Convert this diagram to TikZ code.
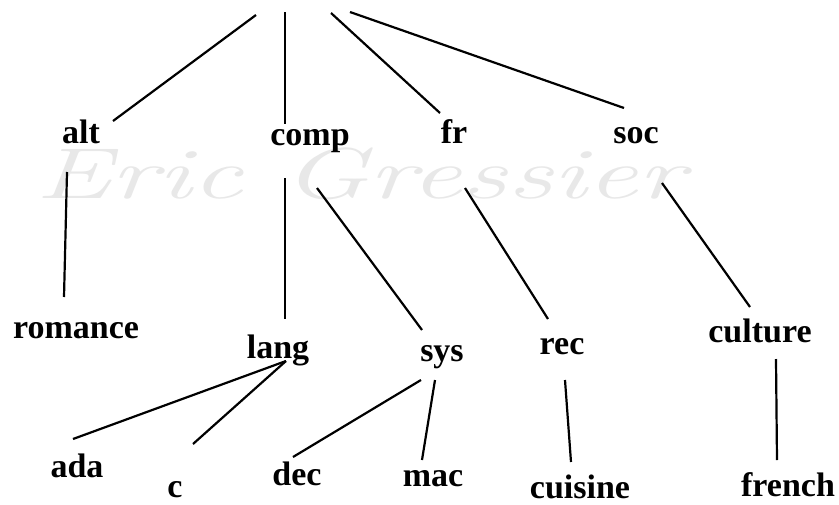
\documentclass[tikz,border=0pt]{standalone}
\usepackage{fontspec}
\setmainfont{Liberation Serif}
\newfontfamily\wmfont{Latin Modern Roman}
\begin{document}
\begin{tikzpicture}[x=1pt,y=-1pt,
  lab/.style={anchor=base,inner sep=0pt,font=\fontsize{34}{36}\selectfont\bfseries},
  edge/.style={line width=2.2pt,black}]
\useasboundingbox (0,0) rectangle (839,504);
\fill[white] (0,0) rectangle (839,504);
% watermark
\node[anchor=base,inner sep=0pt,text=black!9,xscale=1.58,font=\wmfont\fontsize{72}{80}\selectfont\itshape] (wm) at (360,198) {Eric Gressier};
% nodes
\node[lab] (alt) at (81,143) {alt};
\node[lab] (comp) at (310,145) {comp};
\node[lab] (fr) at (454,143) {fr};
\node[lab] (soc) at (636,143) {soc};
\node[lab] (romance) at (76,338) {romance};
\node[lab] (lang) at (278,358) {lang};
\node[lab] (sys) at (442,361) {sys};
\node[lab] (rec) at (562,354) {rec};
\node[lab] (culture) at (760,342) {culture};
\node[lab] (ada) at (77,477) {ada};
\node[lab] (c) at (175,497) {c};
\node[lab] (dec) at (297,485) {dec};
\node[lab] (mac) at (433,486) {mac};
\node[lab] (cuisine) at (580,498) {cuisine};
\node[lab] (french) at (788,496) {french};
% connector ends
\coordinate (r1) at (256,15);
\coordinate (r2) at (285,12);
\coordinate (r3) at (331,13);
\coordinate (r4) at (350,12);
\coordinate (alt-t) at (113,121);
\coordinate (comp-t) at (285,124);
\coordinate (fr-t) at (440,113);
\coordinate (soc-t) at (624,108);
\coordinate (alt-b) at (67,172);
\coordinate (romance-t) at (64,297);
\coordinate (comp-b1) at (285,178);
\coordinate (lang-t) at (285,319);
\coordinate (comp-b2) at (317,188);
\coordinate (sys-t) at (422,330);
\coordinate (fr-b) at (465,188);
\coordinate (rec-t) at (548,319);
\coordinate (soc-b) at (662,183);
\coordinate (culture-t) at (750,307);
\coordinate (lang-b) at (286,361);
\coordinate (ada-t) at (73,439);
\coordinate (c-t) at (193,444);
\coordinate (sys-b1) at (421,380);
\coordinate (dec-t) at (293,457);
\coordinate (sys-b2) at (435,380);
\coordinate (mac-t) at (422,460);
\coordinate (rec-b) at (565,380);
\coordinate (cuisine-t) at (571,462);
\coordinate (culture-b) at (776,359);
\coordinate (french-t) at (777,460);
% connectors
\draw[edge] (r1) -- (alt-t);
\draw[edge] (r2) -- (comp-t);
\draw[edge] (r3) -- (fr-t);
\draw[edge] (r4) -- (soc-t);
\draw[edge] (alt-b) -- (romance-t);
\draw[edge] (comp-b1) -- (lang-t);
\draw[edge] (comp-b2) -- (sys-t);
\draw[edge] (fr-b) -- (rec-t);
\draw[edge] (soc-b) -- (culture-t);
\draw[edge] (lang-b) -- (ada-t);
\draw[edge] (lang-b) -- (c-t);
\draw[edge] (sys-b1) -- (dec-t);
\draw[edge] (sys-b2) -- (mac-t);
\draw[edge] (rec-b) -- (cuisine-t);
\draw[edge] (culture-b) -- (french-t);
\end{tikzpicture}
\end{document}
